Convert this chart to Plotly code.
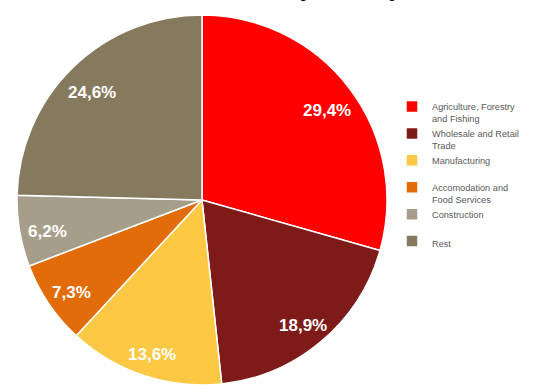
import math
import plotly.graph_objects as go

labels = ["Agriculture, Forestry<br>and Fishing", "Wholesale and Retail<br>Trade", "Manufacturing<br> ",
          "Accomodation and<br>Food Services", "Construction<br> ", "Rest"]
values = [29.4, 18.9, 13.6, 7.3, 6.2, 24.6]
colors = ["#FF0000", "#7E1A18", "#FDC843", "#E26B0A", "#A69E8B", "#857A5E"]
title_text = "Distribution of Labor Force by Industry, in %"

W, H = 540, 385
mt = 15
dom_x = [17 / W, 387 / W]
fig = go.Figure(go.Pie(
    labels=labels, values=values, sort=False, direction="clockwise", rotation=0,
    marker=dict(colors=colors, line=dict(color="white", width=1.5)),
    textinfo="none",
    domain=dict(x=dom_x, y=[0, 1]),
    hoverinfo="skip",
))

# value labels placed along each slice's middle angle (derived from the data)
cx = (dom_x[0] + dom_x[1]) / 2 * W
cy = mt + (H - mt) / 2
r = (H - mt) / 2
total = sum(values)
cum = 0
for v in values:
    mid = (cum + v / 2) / total * 2 * math.pi
    cum += v
    px = cx + 0.85 * r * math.sin(mid)
    py = cy - 0.85 * r * math.cos(mid)
    fig.add_annotation(text="<b>" + f"{v:.1f}".replace(".", ",") + "%</b>",
                       x=px / W, y=(H - py) / (H - mt), xref="paper", yref="paper",
                       xanchor="center", yanchor="middle", yshift=-5,
                       showarrow=False,
                       font=dict(family="Liberation Sans", size=17, color="white"))

fig.add_annotation(text="<b>" + title_text + "</b>", x=0.43, y=1 + 12 / 370, xref="paper", yref="paper",
                   yanchor="bottom", showarrow=False,
                   font=dict(family="Liberation Sans", size=21, color="black"))
fig.update_layout(
    width=W, height=H, margin=dict(l=0, r=0, t=mt, b=0),
    paper_bgcolor="white", plot_bgcolor="white", separators=",.",
    showlegend=True,
    legend=dict(x=392 / W, y=(H - 94) / (H - mt), xanchor="left", yanchor="top", valign="top",
                font=dict(family="Liberation Sans", size=9.2, color="#595959"),
                itemclick=False),
)
fig.write_html("out.html")
